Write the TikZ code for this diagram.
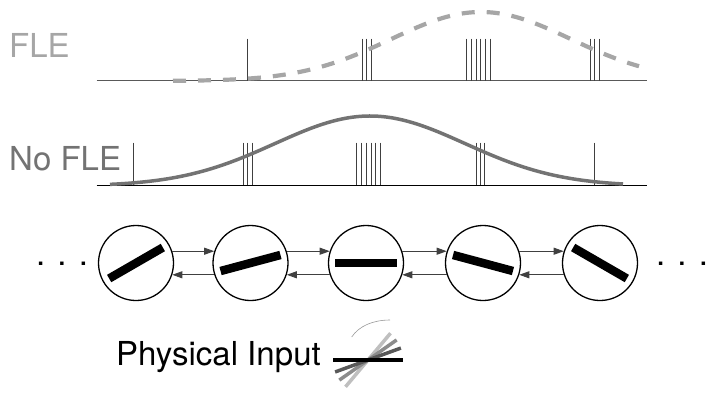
\documentclass[tikz,border=0pt]{standalone}
\usepackage{fontspec}
\setmainfont{TeX Gyre Heros}
\usetikzlibrary{arrows.meta,positioning,calc}
\tikzset{
  cell/.style={circle,draw,line width=1.3pt,minimum size=75pt,inner sep=0pt},
  bar/.style={rectangle,fill=black,minimum width=62pt,minimum height=8.5pt,inner sep=0pt},
  stick/.style={rectangle,minimum width=70pt,minimum height=3.5pt,inner sep=0pt},
  lnk/.style={-{Triangle[length=10pt,width=7pt]},line width=0.9pt,black!75},
  spk/.style={black!75,line width=0.8pt},
  axis/.style={black!65,line width=1.2pt},
  lbl/.style={font=\fontsize{33}{36}\selectfont,inner sep=0pt}
}

\begin{document}
\begin{tikzpicture}[x=1pt,y=-1pt]
  \useasboundingbox (0,0) rectangle (717,392);
  % FLE row
  \node[lbl,text=black!35,anchor=base west] (fle) at (9,57) {FLE};
  \coordinate (fleL) at (96.5,80.7);
  \coordinate (fleR) at (647,80.7);
  \draw[axis] (fleL) -- (fleR);
  \foreach \s in {247.7,362,366.7,371.3,466.7,471.3,476,480.6,485.3,490,590,594.3,599}
    \draw[spk] (\s,38.5) -- (\s,80.7);
  \draw[black!35,line width=4.2pt,dash pattern=on 13pt off 12pt]
    plot[domain=173:639,samples=90,smooth] (\x,{81-69*exp(-0.5*((\x-481)/90)^2)});

  % No FLE row
  \node[lbl,text=black!55,anchor=base west] (nofle) at (9,170.7) {No FLE};
  \coordinate (nofleL) at (96.5,185);
  \coordinate (nofleR) at (647,185);
  \draw[axis,black,line width=1pt] (nofleL) -- (nofleR);
  \foreach \s in {133.3,243.3,247.7,252.3,356.7,361.5,366.3,371,375.8,380.6,476,480.3,484.7,594.3}
    \draw[spk] (\s,142.7) -- (\s,185);
  \draw[black!55,line width=3.5pt]
    plot[domain=110:623,samples=90,smooth] (\x,{186-70*exp(-0.5*((\x-370)/95)^2)});

  % Chain of cells
  \foreach \i/\x/\a in {1/136/30,2/250.5/15,3/366/0,4/483/-15,5/600/-30} {
    \node[cell] (n\i) at (\x,263) {};
    \node[bar,rotate=\a] (b\i) at (n\i) {};
  }
  \foreach \i [evaluate=\i as \j using int(\i+1)] in {1,...,4} {
    \draw[lnk] (n\i.18) -- (n\j.162);
    \draw[lnk] (n\j.198) -- (n\i.-18);
  }
  \node[lbl,anchor=base] (dotsL) at (62,265.5) {. . .};
  \node[lbl,anchor=base] (dotsR) at (682,265.5) {. . .};

  % Physical input
  \node[lbl,anchor=base east] (inp) at (321,365) {Physical Input};
  \coordinate (pin) at (368,360);
  \node[stick,fill=black!25,rotate=50] (s3) at (pin) {};
  \node[stick,fill=black!45,rotate=35] (s2) at (pin) {};
  \node[stick,fill=black!65,rotate=20] (s1) at (pin) {};
  \node[stick,fill=black,rotate=0] (s0) at (pin) {};
  \coordinate (arcA) at (351.7,337);
  \coordinate (arcB) at (390,320);
  \draw[black!40,line width=0.6pt] (arcA) .. controls (359,326) and (373,320) .. (arcB);
\end{tikzpicture}
\end{document}
